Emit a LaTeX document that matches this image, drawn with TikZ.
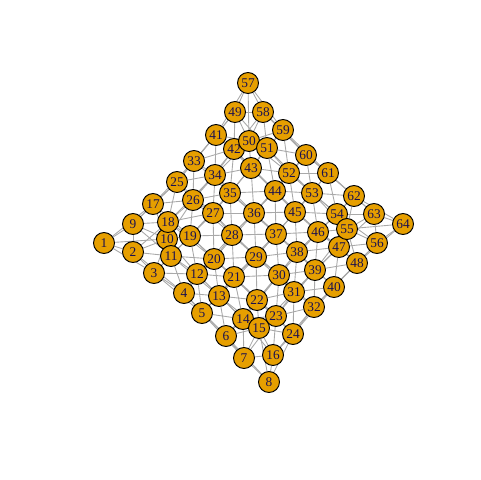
\documentclass[tikz,border=0pt]{standalone}
\usepackage{fontspec}
\setmainfont{Liberation Serif}
\usetikzlibrary{backgrounds}
\definecolor{vfill}{HTML}{E69F00}
\definecolor{edgecol}{HTML}{A9A9A9}
\definecolor{labcol}{HTML}{1A1050}
\tikzset{
  vtx/.style={circle,draw=black,line width=0.55pt,fill=vfill,minimum size=0.42cm,inner sep=0pt,
    text=labcol,font=\fontsize{7.6}{8}\selectfont},
  edge/.style={draw=edgecol,line width=0.5pt}
}
\begin{document}
\begin{tikzpicture}[x=0.02cm,y=-0.02cm]
\useasboundingbox (0,0) rectangle (480,480);
\foreach \i/\x/\y in {
1/104/243, 2/133/252, 3/154/273, 4/184/293, 5/202/313, 6/226/336, 7/244/358, 8/269/382,
9/133/224, 10/167/239, 11/171/256, 12/197/274, 13/219/296, 14/243/319, 15/259/328, 16/273/355,
17/153/204, 18/168/222, 19/190/236, 20/214/259, 21/234/277, 22/257/300, 23/276/316, 24/293/334,
25/177/182, 26/193/200, 27/213/213, 28/232/235, 29/256/257, 30/279/275, 31/294/292, 32/314/307,
33/194/161, 34/215/175, 35/230/193, 36/254/213, 37/276/234, 38/297/252, 39/315/270, 40/334/287,
41/216/135, 42/234/149, 43/251/168, 44/275/191, 45/295/212, 46/318/232, 47/339/247, 48/357/263,
49/235/112, 50/249/141, 51/267/148, 52/289/173, 53/312/193, 54/337/214, 55/347/229, 56/377/243,
57/248/83, 58/263/112, 59/283/130, 60/306/155, 61/328/173, 62/354/196, 63/374/214, 64/403/224}
{\node[vtx] (n\i) at (\x,\y) {\i};}
\begin{scope}[on background layer]
\foreach \i in {1,...,64}{
  \pgfmathtruncatemacro{\colv}{mod(\i-1,8)}
  \pgfmathtruncatemacro{\ra}{\i+1}
  \pgfmathtruncatemacro{\rb}{\i+8}
  \pgfmathtruncatemacro{\rd}{\i+9}
  \pgfmathtruncatemacro{\re}{\i+7}
  \pgfmathtruncatemacro{\rf}{\i+2}
  \pgfmathtruncatemacro{\rg}{\i+16}
  \ifnum\colv<7 \draw[edge] (n\i) -- (n\ra); \fi
  \ifnum\colv<6 \draw[edge] (n\i) -- (n\rf); \fi
  \ifnum\i<49 \draw[edge] (n\i) -- (n\rg); \fi
  \ifnum\i<57
    \draw[edge] (n\i) -- (n\rb);
    \ifnum\colv<7 \draw[edge] (n\i) -- (n\rd); \fi
    \ifnum\colv>0 \draw[edge] (n\i) -- (n\re); \fi
  \fi
}
\end{scope}
\end{tikzpicture}
\end{document}
